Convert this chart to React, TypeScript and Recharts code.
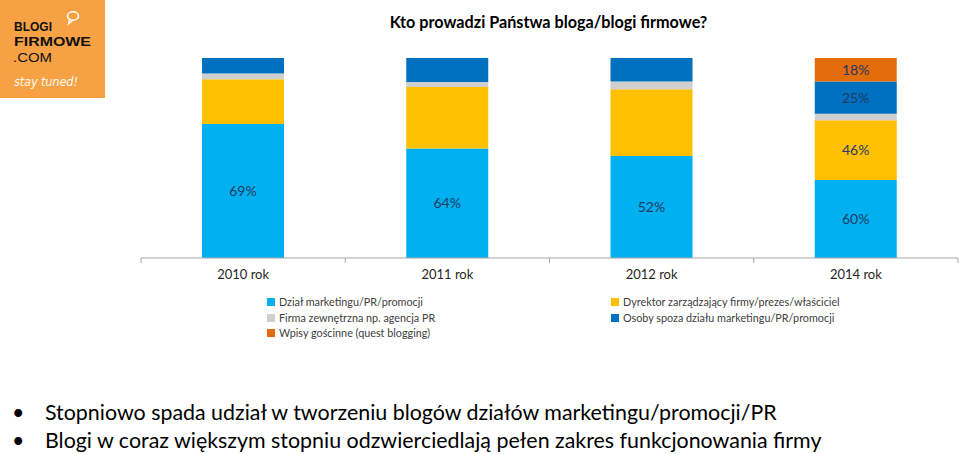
import { BarChart, Bar, XAxis, YAxis, LabelList } from "recharts";

const categories = ["2010 rok", "2011 rok", "2012 rok", "2014 rok"];
const marketing = [69, 64, 52, 60];
const dyrektor = [23, 36, 34, 46];
const agencja = [3, 3, 4, 5];
const osoby = [8, 14, 12, 25];
const goscinne = [0, 0, 0, 18];

const series = [
  { key: "marketing", name: "Dział marketingu/PR/promocji", values: marketing, color: "#00B0F0", labelled: categories },
  { key: "dyrektor", name: "Dyrektor zarządzający firmy/prezes/właściciel", values: dyrektor, color: "#FFC000", labelled: ["2014 rok"] },
  { key: "agencja", name: "Firma zewnętrzna np. agencja PR", values: agencja, color: "#CFCFCF", labelled: [] as string[] },
  { key: "osoby", name: "Osoby spoza działu marketingu/PR/promocji", values: osoby, color: "#0070C0", labelled: ["2014 rok"] },
  { key: "goscinne", name: "Wpisy gościnne (quest blogging)", values: goscinne, color: "#E46C0A", labelled: ["2014 rok"] },
];

const bullets = [
  "Stopniowo spada udział w tworzeniu blogów działów marketingu/promocji/PR",
  "Blogi w coraz większym stopniu odzwierciedlają pełen zakres funkcjonowania firmy",
];

// label fields are only filled where the reference prints a value
const data = categories.map((name, i) => {
  const row: any = { name };
  series.forEach((s) => {
    row[s.key] = s.values[i];
    row[s.key + "Label"] = s.labelled.includes(name) ? s.values[i] : null;
  });
  return row;
});

const FONT = "Lato, 'Open Sans', sans-serif";
const LOGO_FONT = "'Liberation Sans', Arial, sans-serif";
const STEP = 817 / categories.length;

const AxisTick = (props: any) => {
  const { x, y, payload, index } = props;
  return (
    <g>
      <line x1={x - STEP / 2} x2={x - STEP / 2} y1={y} y2={y + 5} stroke="#A6A6A6" />
      {index === categories.length - 1 && (
        <line x1={x + STEP / 2} x2={x + STEP / 2} y1={y} y2={y + 5} stroke="#A6A6A6" />
      )}
      <text x={x} y={y + 21} textAnchor="middle" fill="#262626" fontSize={13} fontFamily={FONT}>
        {payload.value}
      </text>
    </g>
  );
};

const SegmentLabel = (props: any) => {
  const { x, y, width, height, value } = props;
  if (value === null || value === undefined) return null;
  return (
    <text
      x={x + width / 2}
      y={y + height / 2}
      dy={5}
      textAnchor="middle"
      fill="#1F3A60"
      fontSize={14}
      fontFamily={FONT}
    >
      {value}%
    </text>
  );
};

const legendLayout = [
  { key: "marketing", left: 267, top: 295 },
  { key: "dyrektor", left: 611, top: 295 },
  { key: "agencja", left: 267, top: 310.5 },
  { key: "osoby", left: 611, top: 310.5 },
  { key: "goscinne", left: 267, top: 326 },
];

export default function App() {
  return (
    <div style={{ position: "absolute", left: 0, top: 0, width: 960, height: 454, background: "#fff", overflow: "hidden" }}>
      <svg width={105} height={98} style={{ position: "absolute", left: 0, top: 0 }}>
        <rect x={0} y={0} width={105} height={98} fill="#F6A244" />
        <ellipse cx={73} cy={16} rx={5.5} ry={4.2} fill="none" stroke="#fff" strokeWidth={1.6} />
        <path d="M69.5 19 L68.5 24 L73 20" fill="none" stroke="#fff" strokeWidth={1.3} />
        <text x={14} y={30.5} fontFamily={LOGO_FONT} fontWeight={700} fontSize={13.2} fill="#111" textLength={38} lengthAdjust="spacingAndGlyphs">
          BLOGI
        </text>
        <text x={14} y={46} fontFamily={LOGO_FONT} fontWeight={700} fontSize={13.2} fill="#111" textLength={77} lengthAdjust="spacingAndGlyphs">
          FIRMOWE
        </text>
        <text x={13} y={61.5} fontFamily={LOGO_FONT} fontSize={13.2} fill="#111" textLength={39} lengthAdjust="spacingAndGlyphs">
          .COM
        </text>
        <text x={14} y={86} fontFamily="'DejaVu Sans', sans-serif" fontStyle="italic" fontSize={11.5} fill="#fff" opacity={0.9} textLength={64}>
          stay tuned!
        </text>
      </svg>
      <div
        style={{
          position: "absolute",
          left: 300,
          top: 12,
          width: 497,
          textAlign: "center",
          fontFamily: FONT,
          fontWeight: 700,
          fontSize: 16.2,
          color: "#000",
          whiteSpace: "nowrap",
        }}
      >
        Kto prowadzi Państwa bloga/blogi firmowe?
      </div>
      <div style={{ position: "absolute", left: 0, top: 0 }}>
        <BarChart
          width={960}
          height={300}
          data={data}
          stackOffset="expand"
          margin={{ top: 58, right: 2, left: 141, bottom: 12 }}
          barSize={82}
        >
          <XAxis
            dataKey="name"
            axisLine={{ stroke: "#A6A6A6" }}
            tickLine={false}
            tickSize={0}
            tickMargin={0}
            height={30}
            tick={<AxisTick />}
            interval={0}
          />
          <YAxis hide domain={[0, 1]} />
          {series.map((s) => (
            <Bar key={s.key} dataKey={s.key} name={s.name} stackId="a" fill={s.color} isAnimationActive={false}>
              <LabelList dataKey={s.key + "Label"} content={<SegmentLabel />} />
            </Bar>
          ))}
        </BarChart>
      </div>
      {legendLayout.map((l) => {
        const s = series.find((x) => x.key === l.key)!;
        return (
          <div
            key={l.key}
            style={{
              position: "absolute",
              left: l.left,
              top: l.top,
              display: "flex",
              alignItems: "center",
              fontFamily: FONT,
              fontSize: 10.8,
              color: "#404040",
              whiteSpace: "nowrap",
              lineHeight: "14px",
            }}
          >
            <span style={{ width: 8, height: 8, background: s.color, marginRight: 4, display: "inline-block" }} />
            {s.name}
          </div>
        );
      })}
      {bullets.map((b, i) => (
        <div
          key={i}
          style={{
            position: "absolute",
            left: 12,
            top: 399 + i * 27.5,
            fontFamily: FONT,
            fontSize: 21.4,
            color: "#000",
            whiteSpace: "nowrap",
            lineHeight: "26px",
          }}
        >
          <span style={{ display: "inline-block", width: 33 }}>•</span>
          {b}
        </div>
      ))}
    </div>
  );
}
